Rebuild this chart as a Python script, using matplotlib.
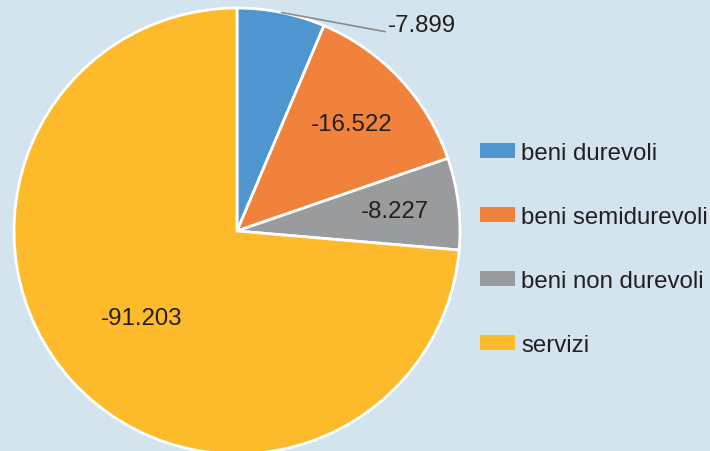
import numpy as np
import matplotlib
matplotlib.use("Agg")
import matplotlib.pyplot as plt

categories = ["beni durevoli", "beni semidurevoli", "beni non durevoli", "servizi"]
values = [-7.899, -16.522, -8.227, -91.203]
colors = ["#4f96d0", "#f0823c", "#9a9b9d", "#fdba2a"]
label_dist = [None, 0.705, 0.715, 0.58]

BG = "#d3e4ee"
TXT = "#231f20"
plt.rcParams["font.family"] = ["Liberation Sans", "DejaVu Sans"]

fig = plt.figure(figsize=(7.10, 4.52), dpi=100, facecolor=BG)
ax = fig.add_axes([0, 0, 1, 1])
ax.set_facecolor(BG)

cx, cy, R = 237, 220, 223
sizes = [abs(v) for v in values]
wedges, _ = ax.pie(sizes, colors=colors, startangle=90, counterclock=False,
                   center=(cx, cy), radius=R, frame=True,
                   wedgeprops=dict(edgecolor="white", linewidth=2))
ax.set_xlim(0, 710)
ax.set_ylim(0, 452)
ax.set_aspect("auto")
ax.axis("off")

fs = 17.3
for w, v, d in zip(wedges, values, label_dist):
    mid = np.deg2rad((w.theta1 + w.theta2) / 2)
    lab = f"{v:.3f}"
    if d is None:
        ex, ey = cx + R * np.cos(mid), cy + R * np.sin(mid)
        ax.annotate(lab, xy=(ex, ey), xytext=(388, 452 - 25.5),
                    ha="left", va="center", fontsize=fs, color=TXT,
                    arrowprops=dict(arrowstyle="-", color="#8a8a8a", lw=1.2,
                                    shrinkA=0, shrinkB=0, relpos=(0, 0.15)))
    else:
        ax.text(cx + d * R * np.cos(mid), cy + d * R * np.sin(mid), lab,
                ha="center", va="center", fontsize=fs, color=TXT)

fpx = fs * 100 / 72
leg = fig.legend(wedges, categories, loc="center left",
                 bbox_to_anchor=(480 / 710, 1 - 250 / 452),
                 frameon=False, fontsize=fs, borderpad=0, borderaxespad=0,
                 handlelength=35 / fpx, handleheight=15 / fpx,
                 handletextpad=6 / fpx, labelspacing=42 / fpx)
for t in leg.get_texts():
    t.set_color(TXT)
for h in leg.legend_handles:
    h.set_edgecolor("none")
    h.set_linewidth(0)

fig.savefig("out.png", dpi=100, facecolor=BG)
